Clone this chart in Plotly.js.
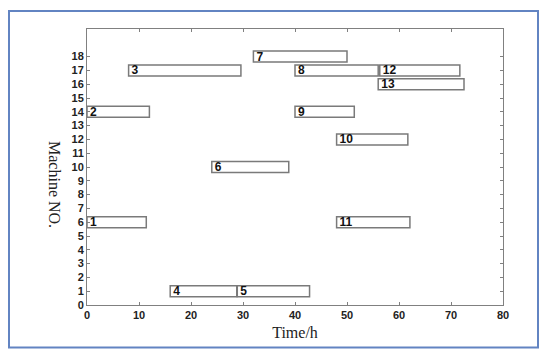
<!DOCTYPE html>
<html>
<head>
<meta charset="utf-8">
<script src="https://cdn.plot.ly/plotly-3.0.1.min.js"></script>
<style>
html,body{margin:0;padding:0;background:#fff;}
#chart{width:550px;height:358px;}
</style>
</head>
<body>
<div id="chart"></div>
<script>
// Job numbers, machine assignment, start and end times (h)
var jobs     = ['1','2','3','4','5','6','7','8','9','10','11','12','13'];
var machines = [6, 14, 17, 1, 1, 10, 18, 17, 14, 12, 6, 17, 16];
var starts   = [0, 0, 8, 16, 28.9, 24, 32, 40, 40, 48, 48, 56.3, 56];
var ends     = [11.4, 12, 29.6, 28.8, 42.8, 38.8, 50, 56, 51.4, 61.7, 62.1, 71.7, 72.5];
var yTicks   = [0,1,2,3,4,5,6,7,8,9,10,11,12,13,14,15,16,17,18];
var xTicks   = [0,10,20,30,40,50,60,70,80];

var durations = starts.map(function(s, i){ return ends[i] - s; });

var trace = {
  type: 'bar',
  orientation: 'h',
  y: machines,
  x: durations,
  base: starts,
  width: 0.8,
  text: jobs,
  textposition: 'inside',
  insidetextanchor: 'start',
  textangle: 0,
  constraintext: 'none',
  textfont: {family: 'Liberation Sans, Arial, sans-serif', size: 12, color: '#111', weight: 'bold'},
  marker: {color: '#ffffff', line: {color: '#7a7a7a', width: 1.5}},
  hoverinfo: 'none',
  showlegend: false
};

var L = 87, R = 47, T = 29, B = 53;
var pw = 550 - L - R, ph = 358 - T - B;
function px2paperX(p){ return (p - L) / pw; }
function px2paperY(p){ return (358 - B - p) / ph; }

var layout = {
  width: 550, height: 358,
  margin: {l: L, r: R, t: T, b: B, pad: 0},
  paper_bgcolor: '#ffffff',
  plot_bgcolor: '#ffffff',
  font: {family: 'Liberation Sans, Arial, sans-serif', color: '#222'},
  xaxis: {
    range: [0, 80], tickvals: xTicks, ticktext: xTicks.map(String),
    showgrid: false, zeroline: false,
    showline: true, linecolor: '#808080', linewidth: 1, mirror: 'ticks',
    ticks: 'inside', ticklen: 3, tickcolor: '#808080',
    tickfont: {size: 11, weight: 'bold', color: '#222'},
    title: {text: 'Time/h', standoff: 6, font: {family: 'Liberation Serif, Times New Roman, serif', size: 16, color: '#222'}}
  },
  yaxis: {
    range: [0, 20], tickvals: yTicks, ticktext: yTicks.map(String),
    showgrid: false, zeroline: false,
    showline: true, linecolor: '#808080', linewidth: 1, mirror: 'ticks',
    ticks: 'inside', ticklen: 3, tickcolor: '#808080',
    tickfont: {size: 11, weight: 'bold', color: '#222'}
  },
  annotations: [{
    text: 'Machine NO.', textangle: 90,
    xref: 'paper', yref: 'paper',
    x: px2paperX(55), y: px2paperY(184),
    xanchor: 'center', yanchor: 'middle', showarrow: false,
    font: {family: 'Liberation Serif, Times New Roman, serif', size: 16, color: '#222'}
  }],
  shapes: [{
    type: 'rect', xref: 'paper', yref: 'paper',
    x0: px2paperX(9), x1: px2paperX(538),
    y0: px2paperY(347.5), y1: px2paperY(11),
    line: {color: '#6284c2', width: 2}, fillcolor: 'rgba(0,0,0,0)', layer: 'below'
  }]
};

Plotly.newPlot('chart', [trace], layout, {staticPlot: true, displayModeBar: false});
</script>
</body>
</html>
